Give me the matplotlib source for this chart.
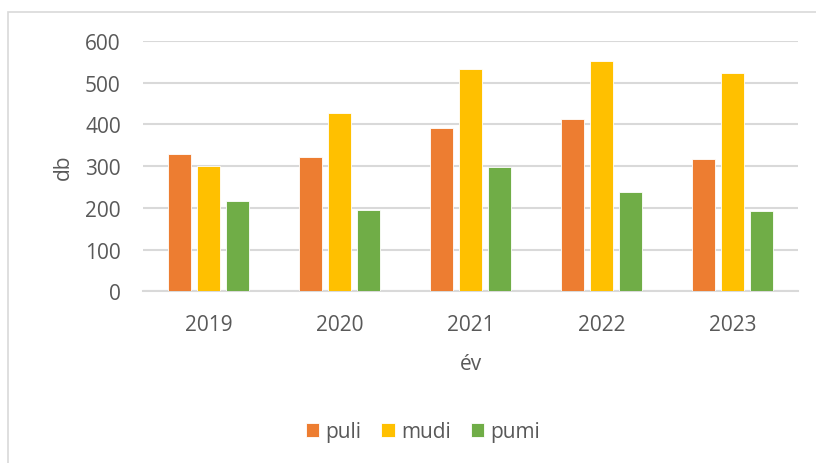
import matplotlib
matplotlib.use("Agg")
import matplotlib.pyplot as plt
import numpy as np
from matplotlib.patches import Rectangle

years = ["2019", "2020", "2021", "2022", "2023"]
puli = [329, 323, 391, 413, 317]
mudi = [300, 427, 534, 553, 523]
pumi = [216, 195, 299, 237, 192]
series_names = ["puli", "mudi", "pumi"]
colors = ["#ED7D31", "#FFC000", "#70AD47"]
yticks = [0, 100, 200, 300, 400, 500, 600]

plt.rcParams['font.family'] = ['Open Sans', 'DejaVu Sans']
txt = "#595959"

W, H = 816, 464
fig = plt.figure(figsize=(W/100, H/100), dpi=100)
fig.patch.set_facecolor("white")
fig.patches.append(Rectangle((8/W, -0.1), 1.1, (H-13)/H + 0.1, transform=fig.transFigure,
                             fill=False, edgecolor="#d9d9d9", linewidth=1.2))

ax = fig.add_axes([143/W, (H-292.3)/H, (798-143)/W, (292.3-42)/H])
x = np.arange(len(years))
bw = 0.176
step = 0.221
for i, (vals, name, c) in enumerate(zip([puli, mudi, pumi], series_names, colors)):
    ax.bar(x + (i-1)*step, vals, width=bw, color=c, label=name, zorder=3,
           edgecolor="white", linewidth=0.6)

ax.set_xlim(-0.5, len(years)-0.5)
ax.set_ylim(0, 600)
ax.set_yticks(yticks)
ax.set_xticks(x)
ax.set_xticklabels(years)
ax.grid(axis="y", color="#d9d9d9", linewidth=1.5, zorder=0)
ax.tick_params(length=0, labelsize=15, colors=txt)
ax.tick_params(axis="y", pad=16)
ax.tick_params(axis="x", pad=16)
for s in ["top", "right", "left"]:
    ax.spines[s].set_visible(False)
ax.spines["bottom"].set_color("#d9d9d9")
ax.spines["bottom"].set_linewidth(1.5)

ax.set_xlabel("év", fontsize=15, color=txt, labelpad=13)
ax.set_ylabel("db", fontsize=15, color=txt, labelpad=8)

leg = fig.legend(loc="center", bbox_to_anchor=(423/W, (H-433)/H), ncol=3, frameon=False,
                 fontsize=15, labelcolor=txt, handlelength=0.65, handleheight=0.65,
                 handletextpad=0.3, columnspacing=0.95)

fig.savefig("out.png", dpi=100)
